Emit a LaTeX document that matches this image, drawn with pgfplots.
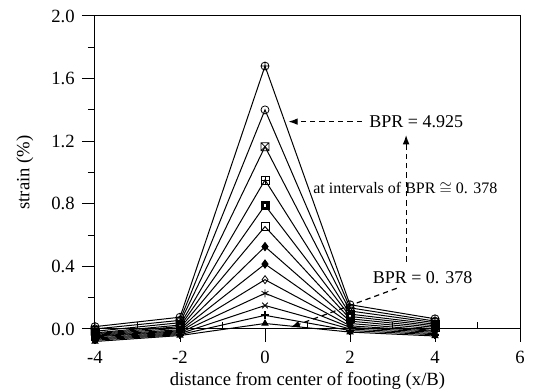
\documentclass[border=0pt]{standalone}
\usepackage{fontspec}
\setmainfont{Liberation Serif}
\usepackage{pgfplots}
\pgfplotsset{compat=1.18}
\usetikzlibrary{arrows.meta}

\pgfdeclareplotmark{boxx}{%
  \pgfpathrectangle{\pgfqpoint{-\pgfplotmarksize}{-\pgfplotmarksize}}{\pgfqpoint{2\pgfplotmarksize}{2\pgfplotmarksize}}%
  \pgfpathmoveto{\pgfqpoint{-\pgfplotmarksize}{-\pgfplotmarksize}}\pgfpathlineto{\pgfqpoint{\pgfplotmarksize}{\pgfplotmarksize}}%
  \pgfpathmoveto{\pgfqpoint{-\pgfplotmarksize}{\pgfplotmarksize}}\pgfpathlineto{\pgfqpoint{\pgfplotmarksize}{-\pgfplotmarksize}}%
  \pgfusepathqstroke}
\pgfdeclareplotmark{boxplus}{%
  \pgfpathrectangle{\pgfqpoint{-\pgfplotmarksize}{-\pgfplotmarksize}}{\pgfqpoint{2\pgfplotmarksize}{2\pgfplotmarksize}}%
  \pgfpathmoveto{\pgfqpoint{-\pgfplotmarksize}{0pt}}\pgfpathlineto{\pgfqpoint{\pgfplotmarksize}{0pt}}%
  \pgfpathmoveto{\pgfqpoint{0pt}{\pgfplotmarksize}}\pgfpathlineto{\pgfqpoint{0pt}{-\pgfplotmarksize}}%
  \pgfusepathqstroke}
\pgfdeclareplotmark{sqdot}{%
  \pgfsetfillcolor{black}%
  \pgfpathrectangle{\pgfqpoint{-\pgfplotmarksize}{-\pgfplotmarksize}}{\pgfqpoint{2\pgfplotmarksize}{2\pgfplotmarksize}}%
  \pgfusepathqfillstroke
  \pgfsetfillcolor{white}%
  \pgfpathrectangle{\pgfqpoint{-0.3\pgfplotmarksize}{-0.3\pgfplotmarksize}}{\pgfqpoint{0.6\pgfplotmarksize}{0.6\pgfplotmarksize}}%
  \pgfusepathqfill}

\begin{document}
\begin{tikzpicture}
\begin{axis}[
  at={(0,0)}, anchor=south west,
  scale only axis, width=318.75pt, height=244.7pt,
  xmin=-4, xmax=6, ymin=-0.085, ymax=2,
  axis line style={draw=none},
  clip=false,
  xtick={-4,-2,0,2,4,6},
  ytick={0,0.4,0.8,1.2,1.6,2.0},
  minor ytick={0.2,0.6,1.0,1.4,1.8},
  xtick pos=bottom, ytick pos=left,
  tick align=outside,
  major tick length=9.75pt, minor tick length=5.25pt,
  xtick style={draw=none},
  tick style={black, line width=0.75pt},
  /pgf/number format/assume math mode=true,
  ticklabel style={font=\fontsize{14}{16}\selectfont},
  yticklabel style={/pgf/number format/fixed,/pgf/number format/fixed zerofill,/pgf/number format/precision=1, xshift=-2pt},
  xticklabel style={yshift=4pt, inner sep=1pt},
  xlabel={distance from center of footing (x/B)},
  ylabel={strain (\%)},
  label style={font=\fontsize{14}{16}\selectfont},
  xlabel style={at={(axis description cs:0.5,0)}, anchor=north, inner sep=1pt, yshift=-21pt},
  ylabel style={at={(axis description cs:0,0.52)}, anchor=center, yshift=52.5pt},
  every axis plot/.append style={black, line width=0.75pt, mark size=3pt},
  mark options={solid, line width=0.6pt},
]
% frame
\draw[line width=0.75pt] (axis cs:-4,-0.085) -- (axis cs:-4,2) -- (axis cs:6,2) -- (axis cs:6,-0.085);
\draw[line width=0.75pt] (axis cs:-4,0) -- (axis cs:6,0);
\pgfplotsinvokeforeach{-2,0,2,4}{\draw[line width=0.75pt] (axis cs:#1,0) -- (axis cs:#1,-0.085);}
\pgfplotsinvokeforeach{-3,-1,1,3,5}{\draw[line width=0.75pt] (axis cs:#1,0) -- (axis cs:#1,0.045);}

\addplot[mark=oplus] coordinates {(-4,0.015) (-2,0.075) (0,1.68) (2,0.155) (4,0.065)};
\addplot[mark=o] coordinates {(-4,0.0) (-2,0.055) (0,1.40) (2,0.135) (4,0.05)};
\addplot[mark=boxx] coordinates {(-4,-0.015) (-2,0.04) (0,1.165) (2,0.115) (4,0.04)};
\addplot[mark=boxplus] coordinates {(-4,-0.025) (-2,0.025) (0,0.952) (2,0.095) (4,0.03)};
\addplot[mark=sqdot] coordinates {(-4,-0.03) (-2,0.015) (0,0.79) (2,0.08) (4,0.02)};
\addplot[mark=square] coordinates {(-4,-0.035) (-2,0.005) (0,0.654) (2,0.065) (4,0.01)};
\addplot[mark=diamond*, mark options={fill=black}] coordinates {(-4,-0.04) (-2,-0.005) (0,0.526) (2,0.05) (4,0.0)};
\addplot[mark=diamond*, mark options={fill=black}] coordinates {(-4,-0.045) (-2,-0.012) (0,0.415) (2,0.035) (4,-0.01)};
\addplot[mark=diamond] coordinates {(-4,-0.05) (-2,-0.018) (0,0.315) (2,0.02) (4,-0.015)};
\addplot[mark=asterisk] coordinates {(-4,-0.058) (-2,-0.024) (0,0.228) (2,0.01) (4,-0.022)};
\addplot[mark=x] coordinates {(-4,-0.065) (-2,-0.03) (0,0.15) (2,0.0) (4,-0.03)};
\addplot[mark=+, mark options={line width=1.5pt}] coordinates {(-4,-0.072) (-2,-0.036) (0,0.087) (2,-0.01) (4,-0.037)};
\addplot[mark=triangle*, mark size=2.5pt, mark options={fill=black}] coordinates {(-4,-0.08) (-2,-0.042) (0,0.035) (2,-0.02) (4,-0.045)};

% annotations
\draw[line width=0.9pt, dash pattern=on 4pt off 3pt, -{Latex[length=7pt,width=5pt]}] (axis cs:2.28,1.325) -- (axis cs:0.55,1.325);
\draw[line width=0.9pt, dash pattern=on 4pt off 3pt, -{Latex[length=7pt,width=5pt]}] (axis cs:3.32,0.43) -- (axis cs:3.32,1.24);
\draw[line width=0.9pt, dash pattern=on 4pt off 3pt, -{Latex[length=7pt,width=5pt]}] (axis cs:3.1,0.26) -- (axis cs:0.6,0.01);
\node[anchor=west, inner sep=0pt, font=\fontsize{13.5}{15}\selectfont] at (axis cs:2.45,1.325) {BPR = 4.925};
\node[anchor=west, inner sep=0pt, font=\fontsize{13.5}{15}\selectfont] at (axis cs:2.53,0.326) {BPR = 0. 378};
\node[anchor=west, inner sep=0pt, font=\fontsize{12}{14}\selectfont] at (axis cs:1.13,0.90) {at intervals of BPR $\cong$ 0. 378};
\end{axis}
\pgfresetboundingbox
\path[use as bounding box] (-71.25pt,-36.5pt) rectangle (328.5pt,256.7pt);
\end{tikzpicture}
\end{document}
